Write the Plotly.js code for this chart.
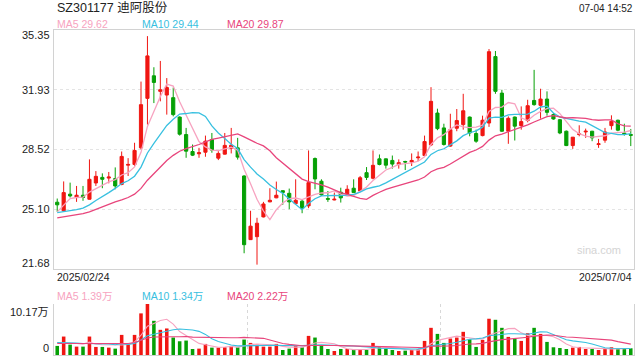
<!DOCTYPE html>
<html><head><meta charset="utf-8">
<script src="https://cdn.plot.ly/plotly-3.0.1.min.js"></script>
<style>html,body{margin:0;padding:0;background:#fff;}#c{width:640px;height:360px;}</style>
</head><body><div id="c"></div>
<script>
// ---- data ----
const openP  = [25.50,25.01,25.96,25.80,25.90,25.67,26.60,26.92,26.88,26.85,26.52,27.62,27.66,28.61,31.44,32.73,31.84,31.63,31.48,30.37,29.37,28.40,28.27,28.36,29.08,28.02,28.25,28.59,28.61,27.00,23.36,23.53,24.66,25.52,25.75,26.16,26.01,25.42,25.56,25.29,28.00,26.70,25.71,25.63,26.07,25.96,26.30,26.14,27.19,26.87,27.98,27.98,27.89,27.66,27.83,27.80,28.04,28.17,28.78,30.60,29.75,28.71,29.73,29.94,30.37,29.43,29.31,30.03,33.83,31.74,29.56,30.37,29.88,30.17,31.32,31.04,31.40,30.51,30.22,29.56,28.74,29.37,29.52,29.56,28.80,29.05,29.88,30.19,29.46,29.37];
const highP  = [25.71,26.69,26.62,26.43,26.43,27.95,27.28,27.15,27.23,27.49,28.40,28.02,28.90,32.40,35.00,33.22,33.58,32.60,32.06,30.41,29.75,28.80,28.61,29.31,29.46,28.42,29.46,29.75,29.18,27.04,25.01,24.61,25.52,26.30,26.68,26.17,26.28,26.81,25.67,28.46,28.06,26.81,26.14,26.05,26.33,26.47,26.81,27.00,27.51,28.46,28.23,28.00,28.17,27.95,27.87,28.29,28.40,29.31,32.08,30.85,29.99,30.56,30.83,31.70,30.40,29.65,30.45,34.26,34.15,31.93,30.41,30.40,30.98,31.36,33.07,31.99,31.84,30.60,30.26,29.60,29.22,29.90,29.71,29.58,29.12,29.75,30.47,30.22,29.99,29.69];
const lowP   = [24.95,24.95,25.77,25.52,25.58,25.65,26.43,26.30,26.58,26.24,26.47,27.00,27.57,28.52,29.94,31.17,31.27,30.51,30.41,29.31,28.04,28.14,28.04,28.10,28.33,27.91,28.23,28.29,27.94,22.58,23.34,21.93,24.63,25.50,25.73,25.35,25.10,25.39,24.87,25.16,26.24,25.86,25.52,25.61,25.48,25.92,26.03,26.10,26.77,26.81,27.61,27.42,27.42,27.42,27.34,27.57,27.85,28.14,28.71,29.62,28.74,28.67,29.56,29.65,29.27,28.90,29.27,29.81,31.70,29.52,28.84,29.03,29.65,30.07,31.02,30.28,30.45,30.22,29.39,28.71,28.55,29.27,29.18,28.99,28.61,28.90,29.65,29.56,29.31,28.71];
const closeP = [25.35,26.05,25.86,25.90,25.77,26.81,26.98,26.81,26.94,26.43,28.12,27.66,28.46,31.08,33.87,32.35,31.93,32.06,30.51,29.39,28.42,28.19,28.33,28.99,28.48,28.29,28.75,28.76,28.08,23.07,24.13,24.30,25.40,25.61,25.90,26.06,25.52,25.61,25.16,26.62,26.83,25.92,25.67,25.67,25.75,26.24,26.05,26.90,26.92,27.61,27.66,27.62,27.68,27.76,27.80,27.89,28.08,28.97,31.27,29.71,28.80,29.65,30.17,30.73,29.46,28.99,30.19,34.11,31.84,29.56,30.30,29.85,30.11,31.02,31.08,31.40,30.64,30.26,29.46,28.74,29.22,29.41,29.56,29.18,28.84,29.52,30.13,29.62,29.41,29.33];
// volume in 万 (10k lots)
const volume = [1.81,3.68,2.07,1.67,1.67,3.68,1.61,1.61,1.47,1.27,4.01,2.14,4.01,8.30,10.17,6.82,5.02,5.29,3.48,2.74,2.88,1.20,1.27,2.21,1.47,1.47,1.54,1.81,1.54,3.08,2.41,2.07,1.67,1.67,2.21,1.00,1.27,1.87,1.54,3.81,3.48,1.87,1.20,0.80,1.20,1.20,1.00,1.14,1.00,2.41,1.67,1.20,1.00,0.80,0.87,1.00,1.14,2.81,5.42,4.21,2.41,3.28,3.48,4.62,3.14,1.61,3.01,7.23,7.02,5.42,3.61,3.21,2.81,4.35,5.42,4.21,2.61,1.54,1.40,1.20,1.47,1.61,1.20,1.20,1.00,1.20,1.54,1.20,1.20,1.34];
// moving-average values before a full window exists
const ma5Head  = [24.95,25.33,25.71,25.77];
const ma10Head = [24.91,24.95,25.01,25.07,25.16,25.35,25.60,25.85,26.05];
const ma20Head = [24.61,24.67,24.72,24.78,24.85,24.95,25.10,25.23,25.39,25.52,25.63,25.77,25.96,26.29,26.76,27.15,27.52,27.89,28.18];
const vma5Head  = [2.5,2.5,2.4,2.3];
const vma10Head = [2.5,2.5,2.4,2.4,2.3,2.3,2.3,2.3,2.2];
const vma20Head = [2.3,2.3,2.3,2.3,2.3,2.3,2.3,2.3,2.3,2.3,2.3,2.3,2.5,3.0,3.4,3.6,3.65,3.65,3.65];

const titleText = 'SZ301177 迪阿股份';
const timeText = '07-04 14:52';
const priceMaLabels = ['MA5 29.62','MA10 29.44','MA20 29.87'];
const volMaLabels = ['MA5 1.39万','MA10 1.34万','MA20 2.22万'];
const priceTicks = [35.35,31.93,28.52,25.10,21.68];
const priceTickText = ['35.35','31.93','28.52','25.10','21.68'];
const volTicks = [10.17,0];
const volTickText = ['10.17万','0'];
const dateLabels = ['2025/02/24','2025/07/04'];

// ---- styling ----
const RED = 'rgb(240,22,18)', GREEN = 'rgb(6,160,6)';
const C5 = '#f7a3c0', C10 = '#38c0e0', C20 = '#e8457c';
const FONT = 'Liberation Sans, Arial, Noto Sans CJK SC, sans-serif';

const idx = closeP.map((_, i) => i);
function ma(arr, n, head) {
  return arr.map((_, i) => {
    if (i < n - 1) return head[i];
    let s = 0; for (let k = i - n + 1; k <= i; k++) s += arr[k];
    return s / n;
  });
}
const volColors = closeP.map((c, i) => c >= openP[i] ? RED : GREEN);

const traces = [
  {type:'candlestick', x:idx, open:openP, high:highP, low:lowP, close:closeP,
   xaxis:'x', yaxis:'y', whiskerwidth:0, hoverinfo:'none',
   increasing:{line:{color:RED,width:1}, fillcolor:RED},
   decreasing:{line:{color:GREEN,width:1}, fillcolor:GREEN}},
  {type:'scatter', mode:'lines', x:idx, y:ma(closeP,5,ma5Head), line:{color:C5,width:1.3}, xaxis:'x', yaxis:'y', hoverinfo:'none'},
  {type:'scatter', mode:'lines', x:idx, y:ma(closeP,10,ma10Head), line:{color:C10,width:1.3}, xaxis:'x', yaxis:'y', hoverinfo:'none'},
  {type:'scatter', mode:'lines', x:idx, y:ma(closeP,20,ma20Head), line:{color:C20,width:1.3}, xaxis:'x', yaxis:'y', hoverinfo:'none'},
  {type:'bar', x:idx, y:volume, marker:{color:volColors, line:{width:0}}, width:0.55, xaxis:'x2', yaxis:'y2', hoverinfo:'none'},
  {type:'scatter', mode:'lines', x:idx, y:ma(volume,5,vma5Head), line:{color:C5,width:1.1}, xaxis:'x2', yaxis:'y2', hoverinfo:'none'},
  {type:'scatter', mode:'lines', x:idx, y:ma(volume,10,vma10Head), line:{color:C10,width:1.1}, xaxis:'x2', yaxis:'y2', hoverinfo:'none'},
  {type:'scatter', mode:'lines', x:idx, y:ma(volume,20,vma20Head), line:{color:C20,width:1.1}, xaxis:'x2', yaxis:'y2', hoverinfo:'none'}
];

// pixel helpers for the paper coordinates (plot area: x 54..634, y 30..355)
const L = 54, R = 634, T = 30, B = 355;
const px = p => (p - L) / (R - L);
const py = p => (B - p) / (B - T);

const ann = [];
const txt = (text, x, y, xanchor, size, color) => ann.push({text, x:px(x), y:py(y), xref:'paper', yref:'paper', xanchor, yanchor:'middle', showarrow:false, font:{family:FONT, size, color}});
txt(titleText, 55, 8.5, 'left', 12.5, '#222');
txt(timeText, 635, 8.5, 'right', 10, '#222');
const maX = [55, 140, 225], maC = [C5, C10, C20];
priceMaLabels.forEach((t, k) => txt(t, maX[k], 24, 'left', 10.5, maC[k]));
volMaLabels.forEach((t, k) => txt(t, maX[k], 295.5, 'left', 10.5, maC[k]));
txt(dateLabels[0], 55, 277, 'left', 10.5, '#222');
txt(dateLabels[1], 634, 277, 'right', 10.5, '#222');
txt('sina.com', 623, 249.5, 'right', 11, '#d4d4d4');
priceTicks.forEach((v, k) => ann.push({text:priceTickText[k], x:px(51.5), xref:'paper', y:v, yref:'y', xanchor:'right', yanchor:'middle',
  yshift: k === 0 ? -5 : (k === priceTicks.length - 1 ? 6 : 0), showarrow:false, font:{family:FONT, size:11, color:'#222'}}));
volTicks.forEach((v, k) => ann.push({text:volTickText[k], x:px(51), xref:'paper', y:v, yref:'y2', xanchor:'right', yanchor:'middle',
  yshift: k === 0 ? -8 : 7, showarrow:false, font:{family:FONT, size:11, color:'#222'}}));

const layout = {
  width:640, height:360, margin:{l:L, r:640-R, t:T, b:360-B, pad:0},
  paper_bgcolor:'#fff', plot_bgcolor:'#fff', showlegend:false, dragmode:false,
  font:{family:FONT},
  xaxis:{domain:[0,1], anchor:'y', range:[-0.5,89.5], showgrid:false, showticklabels:false, ticks:'',
         showline:true, mirror:true, linecolor:'#d2d2d2', linewidth:1, zeroline:false, rangeslider:{visible:false}, fixedrange:true},
  yaxis:{domain:[py(269), 1], anchor:'x', range:[21.68,35.35], tickvals:priceTicks, showticklabels:false, ticks:'',
         showgrid:true, gridcolor:'#e4e4e4', griddash:'dot', gridwidth:1.3,
         showline:true, mirror:true, linecolor:'#d2d2d2', linewidth:1, zeroline:false, fixedrange:true},
  xaxis2:{domain:[0,1], anchor:'y2', range:[-0.5,89.5], tickvals:[29.5,59.5], showticklabels:false, ticks:'',
          showgrid:true, gridcolor:'#d8d8d8', griddash:'dot', gridwidth:1.3,
          showline:true, mirror:false, linecolor:'#d2d2d2', linewidth:1, zeroline:false, fixedrange:true},
  yaxis2:{domain:[0, py(304)], anchor:'x2', range:[0,10.17], tickvals:[10.17], showticklabels:false, ticks:'',
          showgrid:true, gridcolor:'#d8d8d8', griddash:'dot', gridwidth:1.3,
          showline:true, mirror:true, linecolor:'#d2d2d2', linewidth:1, zeroline:false, fixedrange:true},
  bargap:0.3,
  annotations:ann
};
Plotly.newPlot('c', traces, layout, {staticPlot:true, displayModeBar:false});
</script></body></html>
